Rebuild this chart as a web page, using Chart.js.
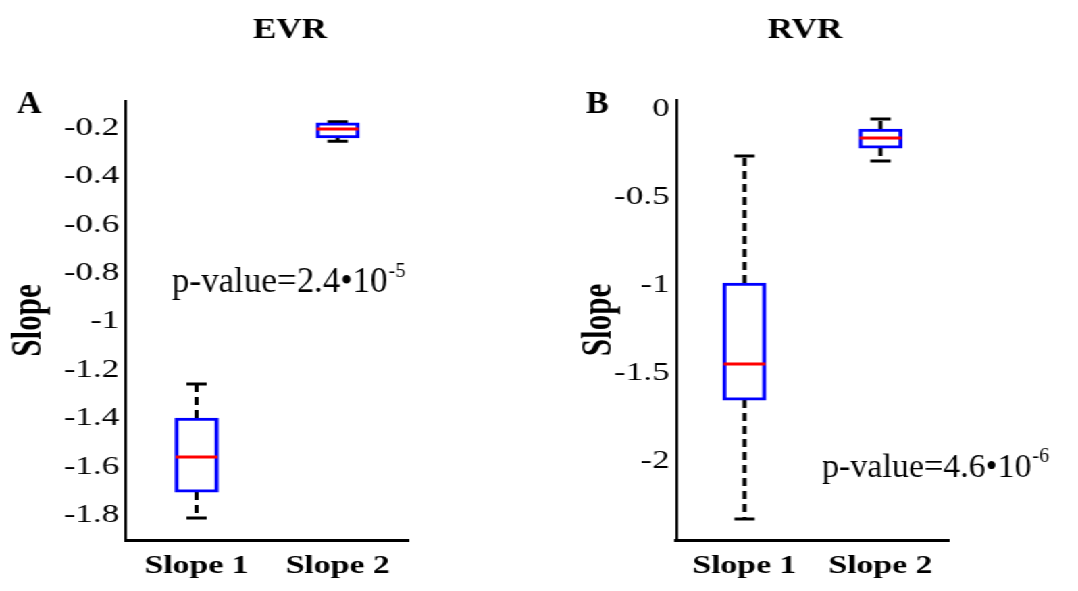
<!DOCTYPE html>
<html>
<head>
<meta charset="utf-8">
<script src="https://cdn.jsdelivr.net/npm/chart.js@4"></script>
<style>
    body { margin: 0; background: #fff; }
    #wrap { position: absolute; left: 0; top: 0; width: 798px; height: 591px; transform: scaleX(1.3509); transform-origin: 0 0; }
    .panel { position: absolute; top: 0; height: 591px; }
</style>
</head>
<body>
<div id="wrap">
    <div class="panel" style="left:0;width:420px"><canvas id="evrChart" width="420" height="591"></canvas></div>
    <div class="panel" style="left:420px;width:378px"><canvas id="rvrChart" width="378" height="591"></canvas></div>
</div>
<script>
// horizontal stretch of the whole figure
const S = 1078 / 798;

const categories = ['Slope 1', 'Slope 2'];
const categoryPos = [1, 2];
const xRange = [0.5, 2.5];

// EVR box plot (whisker low, Q1, median, Q3, whisker high)
const evrLow = [-1.812, -0.254];
const evrQ1 = [-1.705, -0.241];
const evrMedian = [-1.560, -0.204];
const evrQ3 = [-1.399, -0.178];
const evrHigh = [-1.258, -0.174];
const evrTicks = [-1.8, -1.6, -1.4, -1.2, -1, -0.8, -0.6, -0.4, -0.2];
const evrRange = [-1.903, -0.088];

// RVR box plot
const rvrLow = [-2.38, -0.347];
const rvrQ1 = [-1.705, -0.273];
const rvrMedian = [-1.5, -0.216];
const rvrQ3 = [-1.04, -0.165];
const rvrHigh = [-0.318, -0.108];
const rvrTicks = [-2, -1.5, -1, -0.5, 0];
const rvrRange = [-2.5, 0];

const serif = '"Liberation Serif", "Times New Roman", serif';

// titles, panel letters and p-values drawn on top of the chart
const annotate = {
    id: 'annot',
    afterDraw(chart, args, o) {
        const ctx = chart.ctx;
        const put = (s, X, Y, font, stretch, align) => {
            ctx.save();
            ctx.translate(X / S - o.left, Y);
            ctx.scale(stretch / S, 1);
            ctx.font = font;
            ctx.fillStyle = '#000';
            ctx.textAlign = align;
            ctx.textBaseline = 'alphabetic';
            ctx.fillText(s, 0, 0);
            ctx.restore();
        };
        put(o.title, o.titleX, 38, 'bold 30px ' + serif, 1.17, 'center');
        put(o.letter, o.letterX, 113, 'bold 31px ' + serif, 1.1, 'left');

        const pFont = o.pSize + 'px ' + serif;
        ctx.save();
        ctx.font = pFont;
        const w = ctx.measureText(o.pText).width;
        ctx.restore();
        put(o.pText, o.pX, o.pY, pFont, 1, 'left');
        put(o.pExp, o.pX + w + 1, o.pY - 15, '20px ' + serif, 1, 'left');
    }
};

function makeBoxChart(id, low, q1, median, q3, high, ticks, range, box) {
    const datasets = [];

    datasets.push({
        type: 'scatter',
        data: categoryPos.map((x, i) => ({ x: x, y: median[i] })),
        pointStyle: 'line',
        pointRadius: 15.5,
        borderColor: '#ff0000',
        borderWidth: 3,
        order: 0
    });

    datasets.push({
        type: 'bar',
        data: categoryPos.map((x, i) => ({ x: x, y: [q1[i], q3[i]] })),
        backgroundColor: '#ffffff',
        borderColor: '#0000ff',
        borderWidth: 3,
        borderSkipped: false,
        barThickness: 32,
        order: 1
    });

    datasets.push({
        type: 'scatter',
        data: categoryPos.flatMap((x, i) => [{ x: x, y: low[i] }, { x: x, y: high[i] }]),
        pointStyle: 'line',
        pointRadius: 7.5,
        borderColor: '#000',
        borderWidth: 3,
        order: 2
    });

    categoryPos.forEach((x, i) => {
        [[q3[i], high[i]], [q1[i], low[i]]].forEach(seg => {
            datasets.push({
                type: 'line',
                data: [{ x: x, y: seg[0] }, { x: x, y: seg[1] }],
                borderColor: '#000',
                borderWidth: 3,
                borderDash: [8, 5],
                pointRadius: 0,
                fill: false,
                order: 3
            });
        });
    });

    return new Chart(document.getElementById(id), {
        type: 'scatter',
        data: { datasets: datasets },
        plugins: [annotate],
        options: {
            responsive: false,
            animation: false,
            events: [],
            layout: {
                padding: { top: box.top, right: box.right, left: 0, bottom: 0 }
            },
            plugins: {
                legend: { display: false },
                tooltip: { enabled: false },
                annot: box.annot
            },
            scales: {
                x: {
                    type: 'linear',
                    min: xRange[0],
                    max: xRange[1],
                    offset: false,
                    grid: { display: false, drawTicks: false },
                    border: { display: true, color: '#000', width: 3 },
                    afterBuildTicks: (scale) => {
                        scale.ticks = categoryPos.map(v => ({ value: v }));
                    },
                    afterFit: (scale) => { scale.height = 51; },
                    ticks: {
                        padding: 12,
                        color: '#000',
                        font: { family: serif, size: 25, weight: 'bold' },
                        callback: (v) => categories[categoryPos.indexOf(v)]
                    }
                },
                y: {
                    min: range[0],
                    max: range[1],
                    grid: { display: false, drawTicks: false },
                    border: { display: true, color: '#000', width: 2 },
                    afterBuildTicks: (scale) => {
                        scale.ticks = ticks.map(v => ({ value: v }));
                    },
                    afterFit: (scale) => { scale.width = box.yWidth; },
                    title: {
                        display: true,
                        text: 'Slope',
                        color: '#000',
                        font: { family: serif, size: 31, weight: 'bold' },
                        padding: { top: box.titlePad, bottom: 0 }
                    },
                    ticks: {
                        padding: 5,
                        color: '#000',
                        labelOffset: box.labelOffset,
                        font: { family: serif, size: 26 },
                        callback: (v) => String(v)
                    }
                }
            }
        }
    });
}

makeBoxChart('evrChart', evrLow, evrQ1, evrMedian, evrQ3, evrHigh, evrTicks, evrRange, {
    top: 101, right: 117.8, yWidth: 93.3, titlePad: 3.4, labelOffset: 0,
    annot: { left: 0, title: 'EVR', titleX: 290, letter: 'A', letterX: 17,
             pText: 'p-value=2.4\u202210', pExp: '-5', pX: 172, pY: 292, pSize: 35 }
});

makeBoxChart('rvrChart', rvrLow, rvrQ1, rvrMedian, rvrQ3, rvrHigh, rvrTicks, rvrRange, {
    top: 100, right: 95.8, yWidth: 80.7, titlePad: 5.8, labelOffset: 9,
    annot: { left: 420, title: 'RVR', titleX: 805, letter: 'B', letterX: 586,
             pText: 'p-value=4.6\u202210', pExp: '-6', pX: 822, pY: 477, pSize: 34 }
});
</script>
</body>
</html>
